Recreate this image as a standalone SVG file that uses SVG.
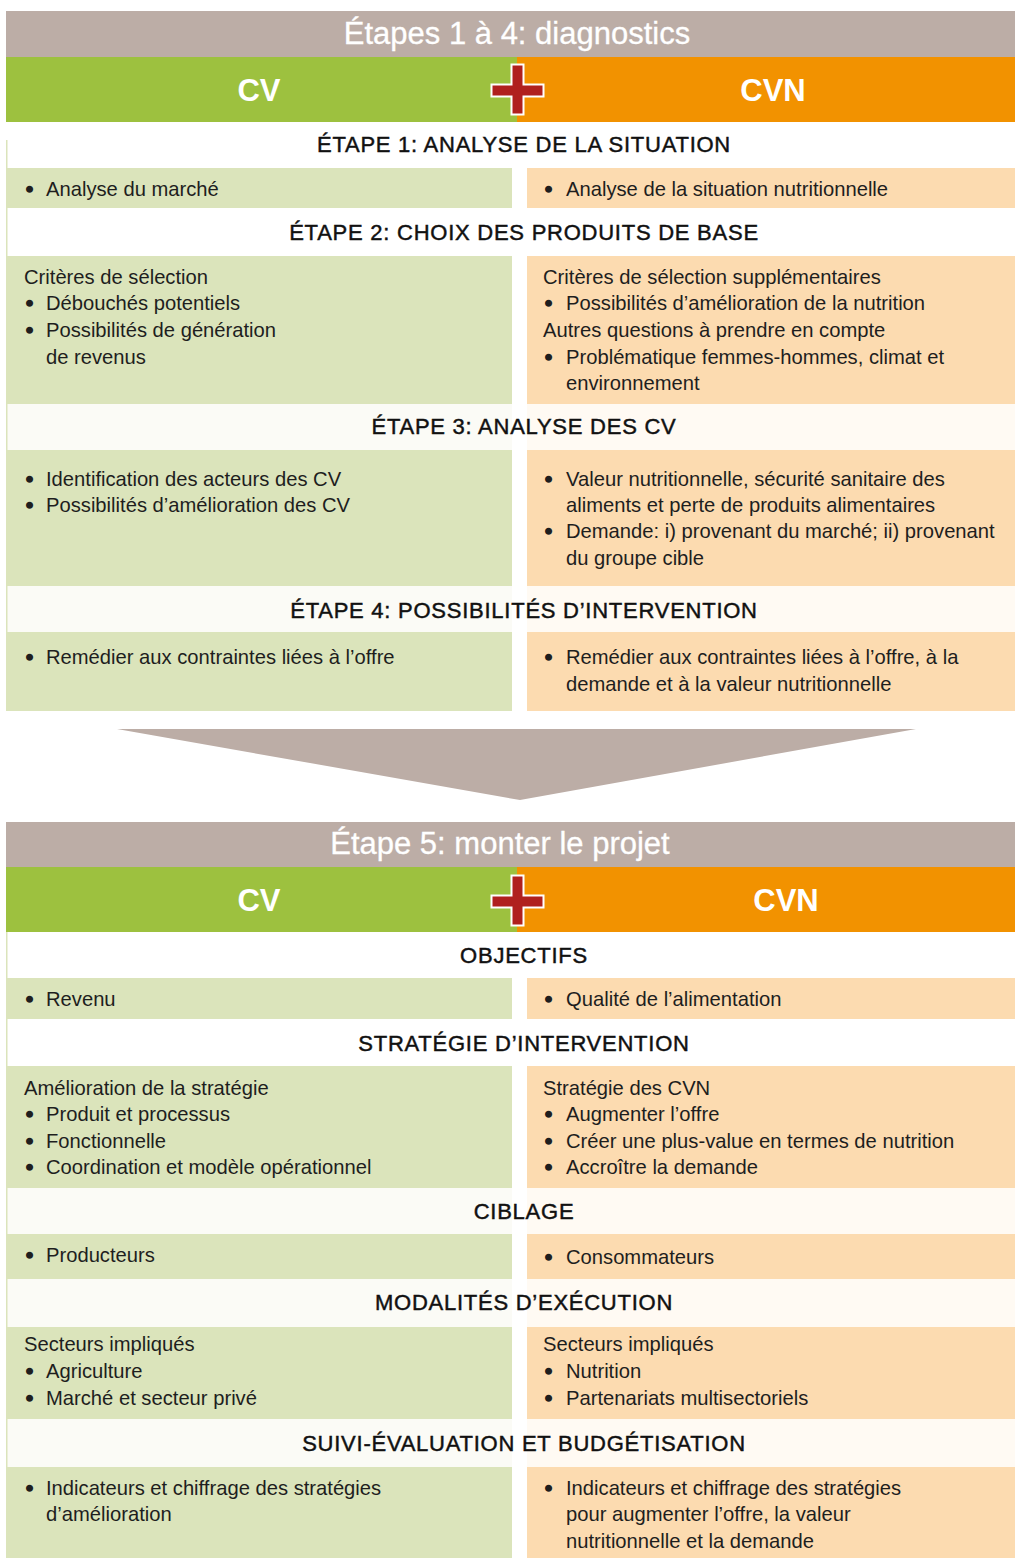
<svg xmlns="http://www.w3.org/2000/svg" width="1015" height="1558" viewBox="0 0 1015 1558">
<style>
.title{font-family:"Liberation Sans",Arial,sans-serif;font-size:31px;fill:#fff;stroke:#fff;stroke-width:0.3;text-anchor:middle}
.band{font-family:"Liberation Sans",Arial,sans-serif;font-size:31px;font-weight:bold;fill:#fff;text-anchor:middle}
.hd{font-family:"Liberation Sans",Arial,sans-serif;font-size:22px;letter-spacing:0.75px;fill:#111;stroke:#111;stroke-width:0.45;text-anchor:middle}
.t{font-family:"Liberation Sans",Arial,sans-serif;font-size:20.2px;fill:#1e1e1e}
.b{font-size:20.2px;stroke:#1e1e1e;stroke-width:1.6}
.gb{fill:#9dc13f}.ob{fill:#f29200}.tb{fill:#bcada6}
.gc{fill:#dbe4bb}.oc{fill:#fcdbb0}
.gh{fill:#fbfbf6}.oh{fill:#fffaf3}
.cross{fill:#b0201e;stroke:#fff;stroke-width:2}
.edge{stroke:#dbe4bb;stroke-width:1.5}
</style>
<rect width="1015" height="1558" fill="#fff"/>

<g id="section1-title">
<rect class="tb" x="6" y="11" width="1009" height="46"/>
<text class="title" x="517" y="44">Étapes 1 à 4: diagnostics</text>
</g>
<g id="section1-band">
<rect class="gb" x="6" y="57" width="511" height="65"/>
<rect class="ob" x="517" y="57" width="498" height="65"/>
<text class="band" x="259" y="101">CV</text>
<text class="band" x="773" y="101">CVN</text>
<path class="cross" d="M511.5,64.5 h12 v20 h20 v12 h-20 v18 h-12 v-18 h-20 v-12 h20 z"/>
</g>

<g id="etape1">
<rect fill="#fff" x="6" y="122" width="1009" height="46"/>
<line class="edge" x1="6.75" y1="140" x2="6.75" y2="168"/>
<text class="hd" x="524" y="152">ÉTAPE 1: ANALYSE DE LA SITUATION</text>
<rect class="gc" x="6" y="168" width="506" height="40"/>
<rect class="oc" x="527" y="168" width="488" height="40"/>
<text class="t" y="196"><tspan class="b" x="26">•</tspan><tspan x="46">Analyse du marché</tspan></text>
<text class="t" y="196"><tspan class="b" x="545">•</tspan><tspan x="566">Analyse de la situation nutritionnelle</tspan></text>
</g>

<g id="etape2">
<rect fill="#fff" x="6" y="208" width="1009" height="48"/>
<line class="edge" x1="6.75" y1="208" x2="6.75" y2="256"/>
<text class="hd" x="524" y="240">ÉTAPE 2: CHOIX DES PRODUITS DE BASE</text>
<rect class="gc" x="6" y="256" width="506" height="148"/>
<rect class="oc" x="527" y="256" width="488" height="148"/>
<text class="t" x="24" y="284">Critères de sélection</text>
<text class="t" y="310"><tspan class="b" x="26">•</tspan><tspan x="46">Débouchés potentiels</tspan></text>
<text class="t" y="337"><tspan class="b" x="26">•</tspan><tspan x="46">Possibilités de génération</tspan></text>
<text class="t" x="46" y="364">de revenus</text>
<text class="t" x="543" y="284">Critères de sélection supplémentaires</text>
<text class="t" y="310"><tspan class="b" x="545">•</tspan><tspan x="566">Possibilités d’amélioration de la nutrition</tspan></text>
<text class="t" x="543" y="337">Autres questions à prendre en compte</text>
<text class="t" y="364"><tspan class="b" x="545">•</tspan><tspan x="566">Problématique femmes-hommes, climat et</tspan></text>
<text class="t" x="566" y="390">environnement</text>
</g>

<g id="etape3">
<rect class="gh" x="6" y="404" width="506" height="46"/>
<rect class="oh" x="527" y="404" width="488" height="46"/>
<line class="edge" x1="6.75" y1="404" x2="6.75" y2="450"/>
<text class="hd" x="524" y="434">ÉTAPE 3: ANALYSE DES CV</text>
<rect class="gc" x="6" y="450" width="506" height="136"/>
<rect class="oc" x="527" y="450" width="488" height="136"/>
<text class="t" y="486"><tspan class="b" x="26">•</tspan><tspan x="46">Identification des acteurs des CV</tspan></text>
<text class="t" y="512"><tspan class="b" x="26">•</tspan><tspan x="46">Possibilités d’amélioration des CV</tspan></text>
<text class="t" y="486"><tspan class="b" x="545">•</tspan><tspan x="566">Valeur nutritionnelle, sécurité sanitaire des</tspan></text>
<text class="t" x="566" y="512">aliments et perte de produits alimentaires</text>
<text class="t" y="538"><tspan class="b" x="545">•</tspan><tspan x="566">Demande: i) provenant du marché; ii) provenant</tspan></text>
<text class="t" x="566" y="565">du groupe cible</text>
</g>

<g id="etape4">
<rect class="gh" x="6" y="586" width="506" height="46"/>
<rect class="oh" x="527" y="586" width="488" height="46"/>
<line class="edge" x1="6.75" y1="586" x2="6.75" y2="632"/>
<text class="hd" x="524" y="618">ÉTAPE 4: POSSIBILITÉS D’INTERVENTION</text>
<rect class="gc" x="6" y="632" width="506" height="79"/>
<rect class="oc" x="527" y="632" width="488" height="79"/>
<text class="t" y="664"><tspan class="b" x="26">•</tspan><tspan x="46">Remédier aux contraintes liées à l’offre</tspan></text>
<text class="t" y="664"><tspan class="b" x="545">•</tspan><tspan x="566">Remédier aux contraintes liées à l’offre, à la</tspan></text>
<text class="t" x="566" y="691">demande et à la valeur nutritionnelle</text>
</g>

<g id="connectors">
<polygon class="tb" points="117,729 916,729 520,800"/>
</g>

<g id="section2-title">
<rect class="tb" x="6" y="822" width="1009" height="45"/>
<text class="title" x="500" y="854">Étape 5: monter le projet</text>
</g>
<g id="section2-band">
<rect class="gb" x="6" y="867" width="511" height="65"/>
<rect class="ob" x="517" y="867" width="498" height="65"/>
<text class="band" x="259" y="911">CV</text>
<text class="band" x="786" y="911">CVN</text>
<path class="cross" d="M511.5,875.5 h12 v20 h20 v12 h-20 v18 h-12 v-18 h-20 v-12 h20 z"/>
</g>

<g id="objectifs">
<rect fill="#fff" x="6" y="932" width="1009" height="46"/>
<line class="edge" x1="6.75" y1="932" x2="6.75" y2="978"/>
<text class="hd" x="524" y="963">OBJECTIFS</text>
<rect class="gc" x="6" y="978" width="506" height="41"/>
<rect class="oc" x="527" y="978" width="488" height="41"/>
<text class="t" y="1006"><tspan class="b" x="26">•</tspan><tspan x="46">Revenu</tspan></text>
<text class="t" y="1006"><tspan class="b" x="545">•</tspan><tspan x="566">Qualité de l’alimentation</tspan></text>
</g>

<g id="strategie">
<rect fill="#fff" x="6" y="1019" width="1009" height="47"/>
<line class="edge" x1="6.75" y1="1019" x2="6.75" y2="1066"/>
<text class="hd" x="524" y="1051">STRATÉGIE D’INTERVENTION</text>
<rect class="gc" x="6" y="1066" width="506" height="122"/>
<rect class="oc" x="527" y="1066" width="488" height="122"/>
<text class="t" x="24" y="1095">Amélioration de la stratégie</text>
<text class="t" y="1121"><tspan class="b" x="26">•</tspan><tspan x="46">Produit et processus</tspan></text>
<text class="t" y="1148"><tspan class="b" x="26">•</tspan><tspan x="46">Fonctionnelle</tspan></text>
<text class="t" y="1174"><tspan class="b" x="26">•</tspan><tspan x="46">Coordination et modèle opérationnel</tspan></text>
<text class="t" x="543" y="1095">Stratégie des CVN</text>
<text class="t" y="1121"><tspan class="b" x="545">•</tspan><tspan x="566">Augmenter l’offre</tspan></text>
<text class="t" y="1148"><tspan class="b" x="545">•</tspan><tspan x="566">Créer une plus-value en termes de nutrition</tspan></text>
<text class="t" y="1174"><tspan class="b" x="545">•</tspan><tspan x="566">Accroître la demande</tspan></text>
</g>

<g id="ciblage">
<rect class="gh" x="6" y="1188" width="506" height="46"/>
<rect class="oh" x="527" y="1188" width="488" height="46"/>
<line class="edge" x1="6.75" y1="1188" x2="6.75" y2="1234"/>
<text class="hd" x="524" y="1219">CIBLAGE</text>
<rect class="gc" x="6" y="1234" width="506" height="45"/>
<rect class="oc" x="527" y="1234" width="488" height="45"/>
<text class="t" y="1262"><tspan class="b" x="26">•</tspan><tspan x="46">Producteurs</tspan></text>
<text class="t" y="1264"><tspan class="b" x="545">•</tspan><tspan x="566">Consommateurs</tspan></text>
</g>

<g id="modalites">
<rect class="gh" x="6" y="1279" width="506" height="48"/>
<rect class="oh" x="527" y="1279" width="488" height="48"/>
<line class="edge" x1="6.75" y1="1279" x2="6.75" y2="1327"/>
<text class="hd" x="524" y="1310">MODALITÉS D’EXÉCUTION</text>
<rect class="gc" x="6" y="1327" width="506" height="92"/>
<rect class="oc" x="527" y="1327" width="488" height="92"/>
<text class="t" x="24" y="1351">Secteurs impliqués</text>
<text class="t" y="1378"><tspan class="b" x="26">•</tspan><tspan x="46">Agriculture</tspan></text>
<text class="t" y="1405"><tspan class="b" x="26">•</tspan><tspan x="46">Marché et secteur privé</tspan></text>
<text class="t" x="543" y="1351">Secteurs impliqués</text>
<text class="t" y="1378"><tspan class="b" x="545">•</tspan><tspan x="566">Nutrition</tspan></text>
<text class="t" y="1405"><tspan class="b" x="545">•</tspan><tspan x="566">Partenariats multisectoriels</tspan></text>
</g>

<g id="suivi">
<rect class="gh" x="6" y="1419" width="506" height="48"/>
<rect class="oh" x="527" y="1419" width="488" height="48"/>
<line class="edge" x1="6.75" y1="1419" x2="6.75" y2="1467"/>
<text class="hd" x="524" y="1451">SUIVI-ÉVALUATION ET BUDGÉTISATION</text>
<rect class="gc" x="6" y="1467" width="506" height="91"/>
<rect class="oc" x="527" y="1467" width="488" height="91"/>
<text class="t" y="1495"><tspan class="b" x="26">•</tspan><tspan x="46">Indicateurs et chiffrage des stratégies</tspan></text>
<text class="t" x="46" y="1521">d’amélioration</text>
<text class="t" y="1495"><tspan class="b" x="545">•</tspan><tspan x="566">Indicateurs et chiffrage des stratégies</tspan></text>
<text class="t" x="566" y="1521">pour augmenter l’offre, la valeur</text>
<text class="t" x="566" y="1548">nutritionnelle et la demande</text>
</g>
</svg>
